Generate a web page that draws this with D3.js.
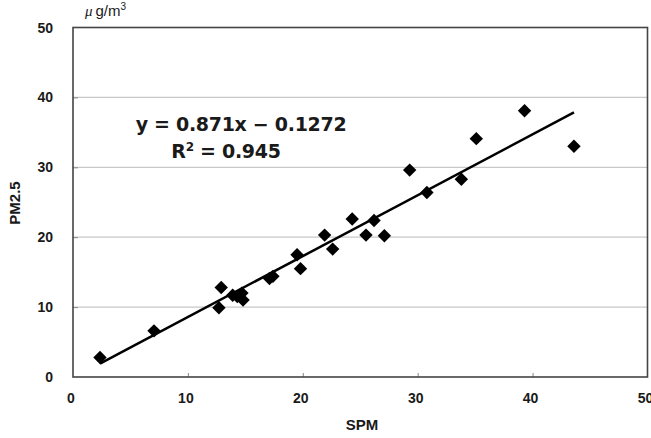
<!DOCTYPE html>
<html>
<head>
<meta charset="utf-8">
<script src="https://cdn.jsdelivr.net/npm/d3@7"></script>
<style>
  body { margin: 0; background: #fff; }
  text { fill: #1a1a1a; }
</style>
</head>
<body>
<svg id="chart" width="651" height="438" font-family="Liberation Sans, Arial, sans-serif"></svg>
<script>
// SPM vs PM2.5 readings (ug/m3)
const spm  = [2.35, 7.05, 12.9, 12.7, 13.9, 14.3, 14.7, 14.8, 17.1, 17.4, 19.5, 19.8, 21.9, 22.6, 24.3, 25.5, 26.2, 27.1, 29.3, 30.8, 33.8, 35.1, 39.3, 43.6];
const pm25 = [2.8, 6.6, 12.8, 9.9, 11.7, 11.5, 12.0, 11.0, 14.1, 14.4, 17.5, 15.5, 20.3, 18.3, 22.6, 20.3, 22.4, 20.2, 29.6, 26.4, 28.3, 34.1, 38.1, 33.0];
const xTicks = [0, 10, 20, 30, 40, 50];
const yTicks = [0, 10, 20, 30, 40, 50];
const slope = 0.871, intercept = -0.1272, r2 = 0.945;

const svg = d3.select("#chart");
const margin = { top: 27.5, right: 3.5, bottom: 61, left: 73 };
const width = 651, height = 438;

const x = d3.scaleLinear().domain([0, 50]).range([margin.left, width - margin.right]);
const y = d3.scaleLinear().domain([0, 50]).range([height - margin.bottom, margin.top]);

//* gridlines
svg.append("g")
  .selectAll("line")
  .data(yTicks.filter(d => d > 0 && d < 50))
  .join("line")
  .attr("x1", x(0)).attr("x2", x(50))
  .attr("y1", d => y(d)).attr("y2", d => y(d))
  .attr("stroke", "#c8c8c8")
  .attr("stroke-width", 1.2);

//* inner ticks
svg.append("g")
  .call(d3.axisBottom(x).tickValues(xTicks.slice(1, -1)).tickSize(-4).tickFormat(""))
  .attr("transform", `translate(0,${y(0)})`)
  .call(g => g.select(".domain").remove())
  .selectAll("line").attr("stroke", "#888");

svg.append("g")
  .call(d3.axisLeft(y).tickValues(yTicks.slice(1, -1)).tickSize(-5).tickFormat(""))
  .attr("transform", `translate(${x(0)},0)`)
  .call(g => g.select(".domain").remove())
  .selectAll("line").attr("stroke", "#888");

//* frame
svg.append("rect")
  .attr("x", x(0)).attr("y", y(50))
  .attr("width", x(50) - x(0)).attr("height", y(0) - y(50))
  .attr("fill", "none")
  .attr("stroke", "#444")
  .attr("stroke-width", 1.6);

//* tick labels
svg.append("g")
  .selectAll("text")
  .data(xTicks)
  .join("text")
  .attr("x", d => x(d) - 2)
  .attr("y", y(0) + 26)
  .attr("text-anchor", "middle")
  .attr("font-size", "14px")
  .attr("font-weight", "bold")
  .text(d => d);

svg.append("g")
  .selectAll("text")
  .data(yTicks)
  .join("text")
  .attr("x", x(0) - 20)
  .attr("y", d => y(d) + 5)
  .attr("text-anchor", "end")
  .attr("font-size", "14px")
  .attr("font-weight", "bold")
  .text(d => d);

//* axis titles
svg.append("text")
  .attr("x", 362).attr("y", 430)
  .attr("text-anchor", "middle")
  .attr("font-size", "15px")
  .attr("font-weight", "bold")
  .text("SPM");

svg.append("text")
  .attr("transform", "translate(20,203) rotate(-90)")
  .attr("text-anchor", "middle")
  .attr("font-size", "15px")
  .attr("font-weight", "bold")
  .text("PM2.5");

const unit = svg.append("text")
  .attr("x", 85).attr("y", 16)
  .attr("font-size", "15px");
unit.append("tspan").attr("font-style", "italic").attr("font-family", "Liberation Serif").text("μ");
unit.append("tspan").attr("dx", 3).text("g/m");
unit.append("tspan").attr("font-size", "10px").attr("dy", -6).text("3");

//* trend line
const xs = d3.extent(spm);
svg.append("line")
  .attr("x1", x(xs[0])).attr("y1", y(slope * xs[0] + intercept))
  .attr("x2", x(xs[1])).attr("y2", y(slope * xs[1] + intercept))
  .attr("stroke", "#000")
  .attr("stroke-width", 2.5);

//* points
const pts = spm.map((v, i) => ({ x: v, y: pm25[i] }));
svg.append("g")
  .selectAll("path")
  .data(pts)
  .join("path")
  .attr("d", d3.symbol(d3.symbolSquare, 90))
  .attr("transform", d => `translate(${x(d.x)},${y(d.y)}) rotate(45)`)
  .attr("fill", "#000");

//* equation
svg.append("text")
  .attr("x", 241).attr("y", 131)
  .attr("text-anchor", "middle")
  .attr("font-size", "19px")
  .attr("font-weight", "bold")
  .attr("font-family", "DejaVu Sans")
  .attr("letter-spacing", "-0.3")
  .text(`y = ${slope}x − ${Math.abs(intercept)}`);

const r = svg.append("text")
  .attr("x", 226).attr("y", 158)
  .attr("text-anchor", "middle")
  .attr("font-size", "19px")
  .attr("font-weight", "bold")
  .attr("font-family", "DejaVu Sans")
  .attr("letter-spacing", "-0.3");
r.append("tspan").text("R");
r.append("tspan").attr("font-size", "12px").attr("dy", -7).text("2");
r.append("tspan").attr("dy", 7).text(` = ${r2}`);
</script>
</body>
</html>
